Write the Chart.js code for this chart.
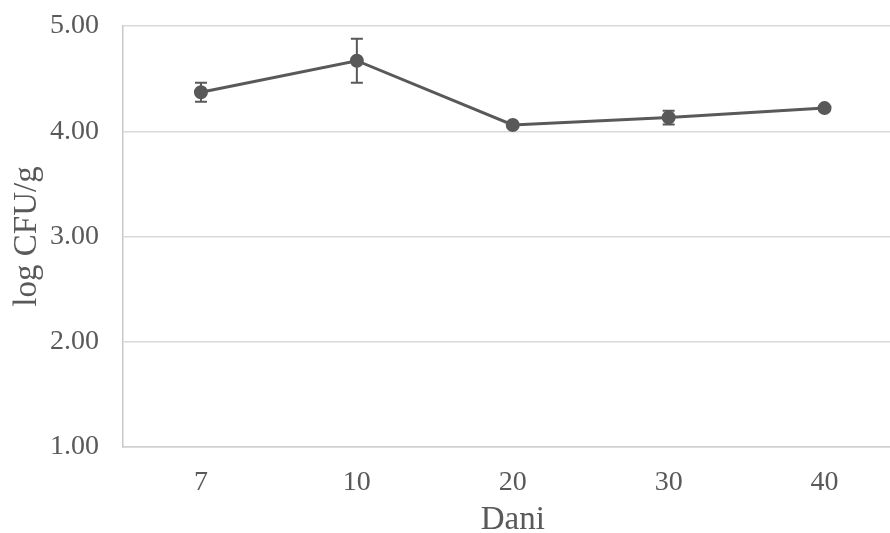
<!DOCTYPE html>
<html>
<head>
<meta charset="utf-8">
<script src="https://cdn.jsdelivr.net/npm/chart.js@4.4.1/dist/chart.umd.min.js"></script>
<style>
  html, body { margin: 0; padding: 0; background: #fff; overflow: hidden; }
  #wrap { width: 911px; height: 533px; position: relative; }
</style>
</head>
<body>
<div id="wrap"><canvas id="c"></canvas></div>
<script>
const categories = ['7', '10', '20', '30', '40'];
const values = [4.37, 4.67, 4.06, 4.13, 4.22];
const errors = [0.09, 0.21, 0.01, 0.065, 0.02];
const yTicks = [1, 2, 3, 4, 5];

const ink = '#595959';
const fontFam = '"Liberation Serif", "Times New Roman", serif';

const errorBarPlugin = {
  id: 'errorBars',
  afterDatasetsDraw(chart) {
    const ctx = chart.ctx;
    const xs = chart.scales.x, ys = chart.scales.y;
    ctx.save();
    ctx.strokeStyle = ink;
    ctx.lineWidth = 2;
    values.forEach((v, i) => {
      const e = errors[i];
      const x = xs.getPixelForValue(i);
      const yt = ys.getPixelForValue(v + e);
      const yb = ys.getPixelForValue(v - e);
      ctx.beginPath();
      ctx.moveTo(x, yt); ctx.lineTo(x, yb);
      ctx.moveTo(x - 6, yt); ctx.lineTo(x + 6, yt);
      ctx.moveTo(x - 6, yb); ctx.lineTo(x + 6, yb);
      ctx.stroke();
    });
    ctx.restore();
  }
};

new Chart(document.getElementById('c'), {
  type: 'line',
  data: {
    labels: categories,
    datasets: [{
      data: values,
      borderColor: ink,
      backgroundColor: ink,
      borderWidth: 3,
      pointRadius: 5.5,
      pointBackgroundColor: ink,
      pointBorderColor: ink,
      tension: 0
    }]
  },
  options: {
    responsive: true,
    maintainAspectRatio: false,
    animation: false,
    layout: { padding: { top: 26, right: 0, left: 0, bottom: 0 } },
    plugins: { legend: { display: false }, tooltip: { enabled: false } },
    scales: {
      x: {
        type: 'category',
        offset: true,
        grid: { display: false, drawTicks: false },
        border: { display: true, color: '#d0d0d0', width: 1.5 },
        ticks: { color: ink, padding: 19, font: { family: fontFam, size: 28 } },
        title: { display: true, text: 'Dani', color: ink, padding: { top: 4, bottom: -7 }, font: { family: fontFam, size: 33 } },
        afterFit(s) { s.height = 86; s.paddingLeft = 0; s.paddingRight = 0; }
      },
      y: {
        min: 1, max: 5,
        afterBuildTicks(s) { s.ticks = yTicks.map(v => ({ value: v })); },
        grid: { color: '#d9d9d9', lineWidth: 1.5, drawTicks: false },
        border: { display: true, color: '#c8c8c8', width: 1.5 },
        ticks: { color: ink, padding: 24, font: { family: fontFam, size: 28 }, callback: v => Number(v).toFixed(2) },
        title: { display: true, text: 'log CFU/g', color: ink, padding: { top: 8, bottom: 4 }, font: { family: fontFam, size: 33 } },
        afterFit(s) { s.width = 123; s.paddingTop = 0; s.paddingBottom = 0; }
      }
    }
  },
  plugins: [errorBarPlugin]
});
</script>
</body>
</html>
